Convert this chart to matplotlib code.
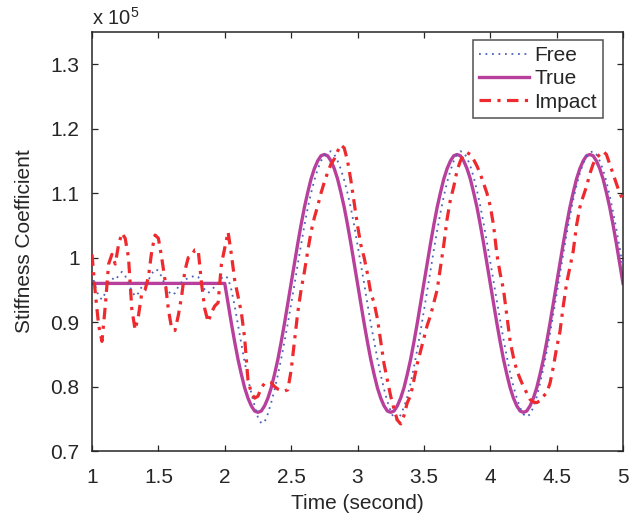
import numpy as np
import matplotlib
matplotlib.use("Agg")
import matplotlib.pyplot as plt

plt.rcParams['font.family'] = ['Liberation Sans', 'DejaVu Sans']
plt.rcParams['mathtext.fontset'] = 'custom'
plt.rcParams['mathtext.rm'] = 'Liberation Sans'
plt.rcParams['mathtext.it'] = 'Liberation Sans'

# ---- data (stiffness coefficient in units of 1e5), time step 0.025 s ----
t_start = 1.0
t_step = 0.025

free_vals = [
    0.975, 0.955, 0.940, 0.935, 0.945, 0.960, 0.968, 0.965, 0.972, 0.978,
    0.972, 0.960, 0.948, 0.940, 0.945, 0.955, 0.958, 0.965, 0.975, 0.982,
    0.980, 0.970, 0.958, 0.948, 0.942, 0.945, 0.955, 0.962, 0.966, 0.968,
    0.970, 0.972, 0.970, 0.960, 0.950, 0.945, 0.950, 0.955, 0.960, 0.968,
    0.972, 0.968, 0.950, 0.925, 0.895, 0.866, 0.838, 0.812, 0.790, 0.770,
    0.752, 0.743, 0.745, 0.758, 0.775, 0.795, 0.818, 0.843, 0.870, 0.898,
    0.928, 0.958, 0.990, 1.020, 1.050, 1.077, 1.100, 1.120, 1.137, 1.150,
    1.158, 1.163, 1.165, 1.160, 1.150, 1.137, 1.120, 1.100, 1.077, 1.050,
    1.020, 0.990, 0.960, 0.928, 0.898, 0.870, 0.843, 0.818, 0.796, 0.777,
    0.762, 0.750, 0.748, 0.756, 0.768, 0.784, 0.805, 0.830, 0.857, 0.886,
    0.917, 0.948, 0.980, 1.012, 1.042, 1.070, 1.095, 1.117, 1.135, 1.150,
    1.160, 1.165, 1.163, 1.155, 1.142, 1.125, 1.104, 1.080, 1.053, 1.024,
    0.994, 0.963, 0.932, 0.902, 0.873, 0.846, 0.821, 0.800, 0.782, 0.767,
    0.757, 0.753, 0.757, 0.768, 0.784, 0.805, 0.828, 0.854, 0.882, 0.912,
    0.943, 0.975, 1.006, 1.036, 1.064, 1.090, 1.112, 1.131, 1.146, 1.157,
    1.163, 1.165, 1.160, 1.150, 1.136, 1.118, 1.096, 1.071, 1.044, 1.015,
    0.985,
]

impact_vals = [
    1.005, 0.945, 0.895, 0.870, 0.925, 0.990, 1.005, 0.990, 1.020, 1.038,
    1.030, 1.000, 0.920, 0.888, 0.910, 0.945, 0.950, 0.970, 1.010, 1.035,
    1.030, 1.000, 0.965, 0.920, 0.890, 0.887, 0.910, 0.940, 0.980, 1.000,
    1.003, 1.012, 1.012, 0.960, 0.920, 0.900, 0.915, 0.925, 0.930, 0.990,
    1.015, 1.040, 1.005, 0.965, 0.940, 0.915, 0.875, 0.810, 0.790, 0.782,
    0.785, 0.798, 0.805, 0.807, 0.806, 0.800, 0.796, 0.794, 0.793, 0.795,
    0.825, 0.870, 0.915, 0.950, 0.978, 1.010, 1.040, 1.062, 1.080, 1.100,
    1.117, 1.132, 1.145, 1.153, 1.165, 1.175, 1.170, 1.150, 1.120, 1.085,
    1.050, 1.020, 1.000, 0.975, 0.945, 0.930, 0.905, 0.870, 0.835, 0.810,
    0.785, 0.765, 0.748, 0.742, 0.755, 0.775, 0.786, 0.810, 0.835, 0.855,
    0.875, 0.895, 0.910, 0.930, 0.950, 0.985, 1.020, 1.060, 1.090, 1.110,
    1.135, 1.150, 1.160, 1.163, 1.160, 1.152, 1.142, 1.130, 1.115, 1.100,
    1.080, 1.050, 1.005, 0.975, 0.950, 0.910, 0.870, 0.845, 0.825, 0.812,
    0.800, 0.790, 0.780, 0.776, 0.775, 0.778, 0.785, 0.790, 0.805, 0.830,
    0.860, 0.885, 0.925, 0.960, 0.985, 1.010, 1.050, 1.078, 1.095, 1.110,
    1.130, 1.145, 1.155, 1.160, 1.165, 1.160, 1.145, 1.130, 1.115, 1.100,
    1.090,
]

# True: constant until t = 2 s, then sampled every 0.025 s
true_time_first = [1.0]
true_vals = [
    0.960,
    0.960, 0.929, 0.898, 0.869, 0.842, 0.819, 0.798, 0.782, 0.770, 0.762,
    0.760, 0.762, 0.770, 0.782, 0.798, 0.819, 0.842, 0.869, 0.898, 0.929,
    0.960, 0.991, 1.022, 1.051, 1.078, 1.101, 1.122, 1.138, 1.150, 1.158,
    1.160, 1.158, 1.150, 1.138, 1.122, 1.101, 1.078, 1.051, 1.022, 0.991,
    0.960, 0.929, 0.898, 0.869, 0.842, 0.819, 0.798, 0.782, 0.770, 0.762,
    0.760, 0.762, 0.770, 0.782, 0.798, 0.819, 0.842, 0.869, 0.898, 0.929,
    0.960, 0.991, 1.022, 1.051, 1.078, 1.101, 1.122, 1.138, 1.150, 1.158,
    1.160, 1.158, 1.150, 1.138, 1.122, 1.101, 1.078, 1.051, 1.022, 0.991,
    0.960, 0.929, 0.898, 0.869, 0.842, 0.819, 0.798, 0.782, 0.770, 0.762,
    0.760, 0.762, 0.770, 0.782, 0.798, 0.819, 0.842, 0.869, 0.898, 0.929,
    0.960, 0.991, 1.022, 1.051, 1.078, 1.101, 1.122, 1.138, 1.150, 1.158,
    1.160, 1.158, 1.150, 1.138, 1.122, 1.101, 1.078, 1.051, 1.022, 0.991,
    0.960,
]
true_grid_start = 2.0

x_ticks = [1, 1.5, 2, 2.5, 3, 3.5, 4, 4.5, 5]
x_tick_labels = ['1', '1.5', '2', '2.5', '3', '3.5', '4', '4.5', '5']
y_ticks = [0.7, 0.8, 0.9, 1.0, 1.1, 1.2, 1.3]
y_tick_labels = ['0.7', '0.8', '0.9', '1', '1.1', '1.2', '1.3']

t_free = t_start + t_step * np.arange(len(free_vals))
t_impact = t_start + t_step * np.arange(len(impact_vals))
t_true = np.concatenate([true_time_first,
                         true_grid_start + t_step * np.arange(len(true_vals) - 1)])

# ---- figure ----
W, H = 629, 522
FS = 15
TXT = '#262626'
fig = plt.figure(figsize=(W / 100, H / 100), dpi=100)
L, R, T, B = 92, 623, 32, 451
ax = fig.add_axes([L / W, (H - B) / H, (R - L) / W, (B - T) / H])

ax.plot(t_free, free_vals, color='#4a63b8', lw=1.3, linestyle=(0, (1, 2.6)),
        label='Free', zorder=3)
ax.plot(t_true, true_vals, color='#b8409c', lw=2.4, linestyle='-',
        label='True', zorder=2)
ax.plot(t_impact, impact_vals, color='#ee2a2e', lw=2.3,
        linestyle=(0, (3.6, 2.0, 1.0, 2.0)), label='Impact', zorder=4)

ax.set_xlim(1, 5)
ax.set_ylim(0.7, 1.35)
ax.set_xticks(x_ticks)
ax.set_xticklabels(x_tick_labels)
ax.set_yticks(y_ticks)
ax.set_yticklabels(y_tick_labels)

ax.tick_params(direction='in', length=4.5, width=0.9, top=True, right=True,
               labelsize=FS, colors=TXT)
ax.tick_params(axis='x', pad=12)
ax.tick_params(axis='y', pad=9)
for s in ax.spines.values():
    s.set_linewidth(1.1)
    s.set_color(TXT)

ax.set_xlabel('Time (second)', fontsize=FS, color=TXT, labelpad=5)
ax.set_ylabel('Stiffness Coefficient', fontsize=FS, color=TXT, labelpad=12)

fig.text(L / W, 1 - 25 / H, r'x 10$^5$', fontsize=14.5, color=TXT,
         ha='left', va='baseline')

leg = ax.legend(loc='upper right', bbox_to_anchor=((603 - L) / (R - L), (B - 40) / (B - T)),
                borderaxespad=0, fontsize=FS, frameon=True, fancybox=False,
                handlelength=2.4, handletextpad=0.25, labelspacing=0.2,
                borderpad=0.3)
leg.get_frame().set_edgecolor(TXT)
leg.get_frame().set_linewidth(1.1)
for txt in leg.get_texts():
    txt.set_color(TXT)

fig.savefig('out.png', dpi=100)
